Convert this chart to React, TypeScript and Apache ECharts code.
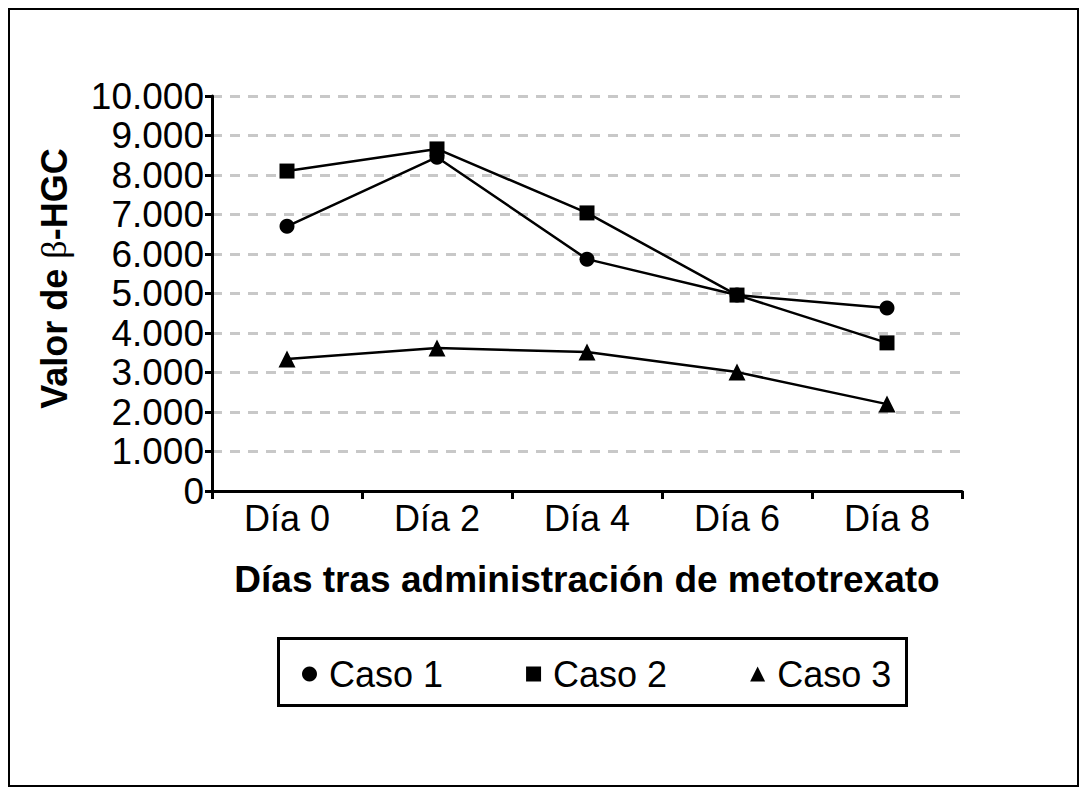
import React, { useEffect, useRef } from "react";
import * as echarts from "echarts";

const categories = ["Día 0", "Día 2", "Día 4", "Día 6", "Día 8"];
const caso1 = [6700, 8450, 5870, 4960, 4630];
const caso2 = [8100, 8660, 7040, 4960, 3750];
const caso3 = [3340, 3620, 3520, 3010, 2200];
const seriesNames = ["Caso 1", "Caso 2", "Caso 3"];

const FONT = "'Liberation Sans', Arial, Helvetica, sans-serif";

function fmt(v: number): string {
  return String(v).replace(/\B(?=(\d{3})+(?!\d))/g, ".");
}

export default function App() {
  const ref = useRef<HTMLDivElement>(null);
  useEffect(() => {
    if (!ref.current) return;
    const chart = echarts.init(ref.current, null, { renderer: "svg" });
    const lineStyle = { color: "#000", width: 2.5 };
    chart.setOption({
      animation: false,
      backgroundColor: "#fff",
      textStyle: { fontFamily: FONT, color: "#000" },
      grid: { left: 212, top: 96, width: 750, height: 395, containLabel: false },
      xAxis: {
        type: "category",
        data: categories,
        boundaryGap: true,
        axisLine: { lineStyle: { color: "#000", width: 3 } },
        axisTick: { show: true, length: 8, lineStyle: { color: "#000", width: 3 } },
        axisLabel: { fontSize: 36, color: "#000", fontFamily: FONT, margin: 9 },
        name: "Días tras administración de metotrexato",
        nameLocation: "middle",
        nameGap: 70,
        nameTextStyle: { fontSize: 37, fontWeight: "bold", color: "#000", fontFamily: FONT },
      },
      yAxis: {
        type: "value",
        min: 0,
        max: 10000,
        interval: 1000,
        axisLine: { show: true, lineStyle: { color: "#000", width: 3 } },
        axisTick: { show: true, length: 7, lineStyle: { color: "#000", width: 3 } },
        axisLabel: {
          fontSize: 37,
          color: "#000",
          fontFamily: FONT,
          margin: 8,
          formatter: (v: number) => fmt(v),
        },
        splitLine: {
          show: true,
          lineStyle: { color: "#c8c8c8", width: 3, type: [10, 8] },
        },
        name: "{b|Valor de }{g|β}{b|-HGC}",
        nameLocation: "middle",
        nameGap: 140,
        nameTextStyle: {
          padding: [0, 0, 0, 30],
          rich: {
            b: { fontSize: 36, fontWeight: "bold", fontFamily: FONT, color: "#000" },
            g: { fontSize: 36, fontFamily: "'Liberation Serif', 'DejaVu Serif', serif", color: "#000" },
          },
        },
      },
      legend: {
        left: 297,
        top: 651,
        itemWidth: 15,
        itemHeight: 15,
        itemGap: 83,
        textStyle: { fontSize: 36, color: "#000", fontFamily: FONT, padding: [0, 0, 0, 7] },
        data: [
          { name: seriesNames[0], icon: "circle" },
          { name: seriesNames[1], icon: "rect" },
          { name: seriesNames[2], icon: "triangle" },
        ],
      },
      graphic: [
        {
          type: "rect",
          shape: { x: 9, y: 9, width: 1069, height: 777 },
          style: { fill: "none", stroke: "#000", lineWidth: 2 },
          silent: true,
        },
        {
          type: "rect",
          shape: { x: 278.5, y: 638.5, width: 628, height: 67 },
          style: { fill: "none", stroke: "#000", lineWidth: 3 },
          silent: true,
        },
      ],
      series: [
        {
          name: seriesNames[0],
          type: "line",
          data: caso1,
          symbol: "circle",
          symbolSize: 15,
          lineStyle,
          itemStyle: { color: "#000" },
        },
        {
          name: seriesNames[1],
          type: "line",
          data: caso2,
          symbol: "rect",
          symbolSize: 15,
          lineStyle,
          itemStyle: { color: "#000" },
        },
        {
          name: seriesNames[2],
          type: "line",
          data: caso3,
          symbol: "triangle",
          symbolSize: 17,
          lineStyle,
          itemStyle: { color: "#000" },
        },
      ],
    });
    return () => chart.dispose();
  }, []);
  return (
    <div
      ref={ref}
      style={{ position: "absolute", left: 0, top: 0, width: 1087, height: 794 }}
    />
  );
}
